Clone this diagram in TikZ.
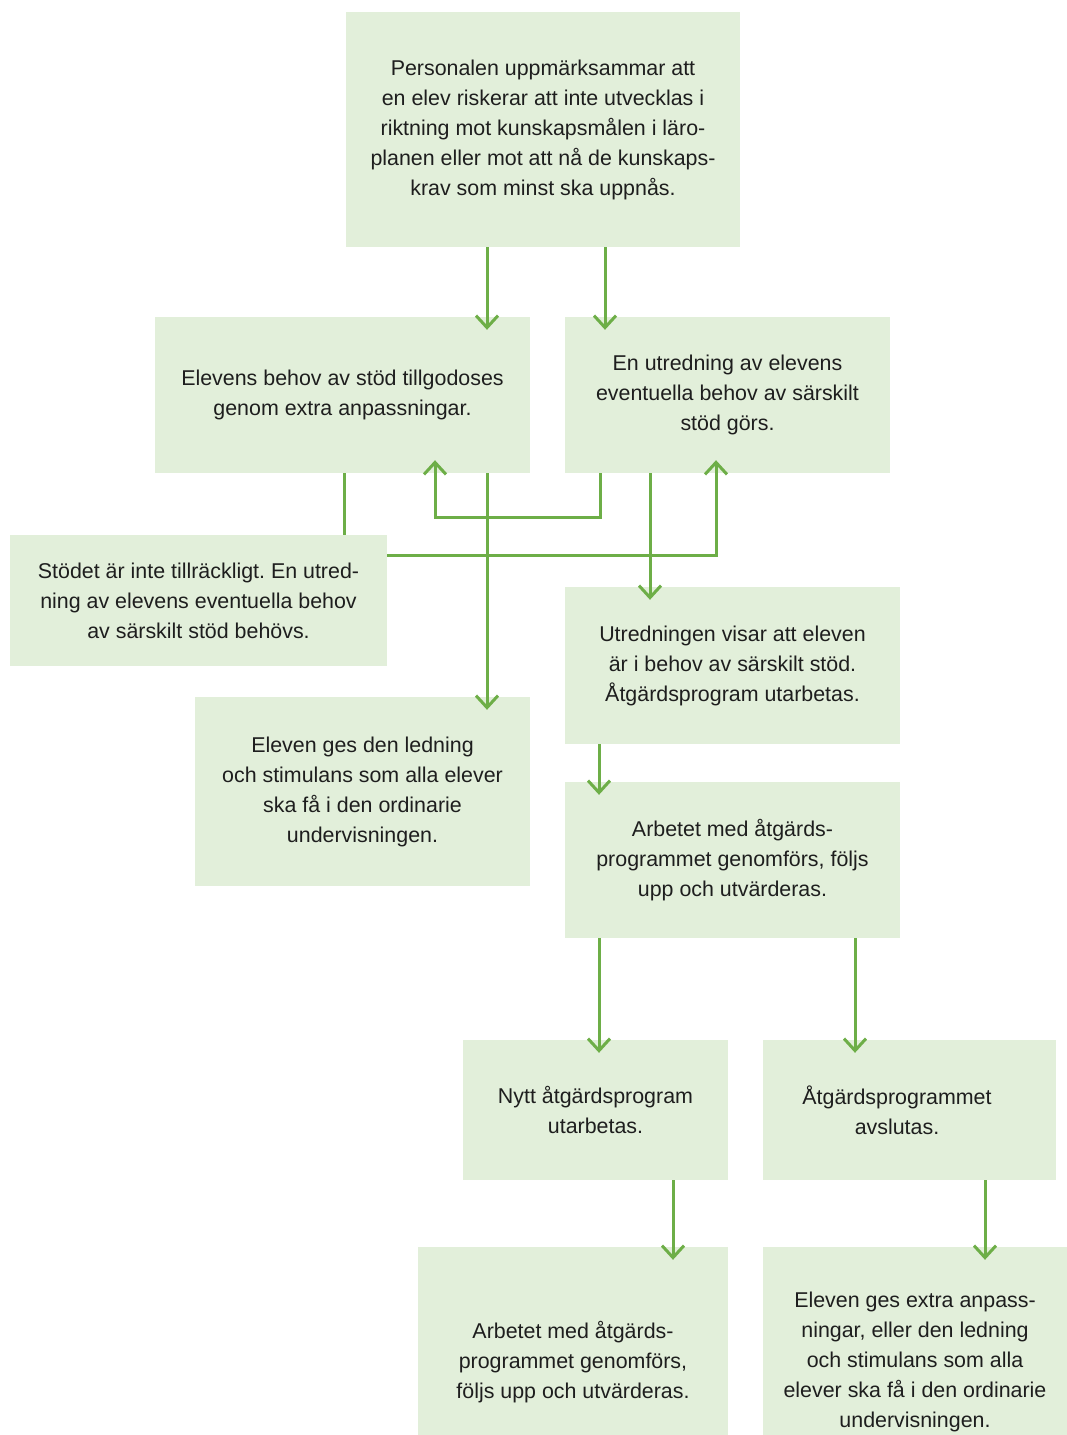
\documentclass[tikz,border=0pt]{standalone}
\usepackage{fontspec}
\setmainfont{Liberation Sans}
\usetikzlibrary{arrows.meta}
\definecolor{boxfill}{HTML}{E2EFDA}
\definecolor{linegreen}{HTML}{6DAE47}
\definecolor{txt}{HTML}{1E1E1E}
\frenchspacing
\tikzset{
  fbox/.style={fill=boxfill, draw=none, inner sep=0pt, align=center, text=txt,
    font=\fontsize{21.4}{30}\selectfont},
  arr/.style={draw=linegreen, line width=3pt, -{Straight Barb[length=12pt,width=22pt]}, shorten >=-13pt},
  conn/.style={draw=linegreen, line width=3pt}
}
\begin{document}
\begin{tikzpicture}[x=1pt,y=-1pt]
\useasboundingbox (0,0) rectangle (1067,1435);
\clip (0,0) rectangle (1067,1435);
\node[fbox, minimum width=394pt, minimum height=235pt] (top) at (543,129.5)
  {Personalen uppmärksammar att\\en elev riskerar att inte utvecklas i\\riktning mot kunskapsmålen i läro-\\planen eller mot att nå de kunskaps-\\krav som minst ska uppnås.};
\node[fbox, minimum width=375pt, minimum height=156pt] (extra) at (342.5,395)
  {Elevens behov av stöd tillgodoses\\genom extra anpassningar.};
\node[fbox, minimum width=325pt, minimum height=156pt] (utr) at (727.5,395)
  {En utredning av elevens\\eventuella behov av särskilt\\stöd görs.};
\node[fbox, minimum width=377pt, minimum height=131pt] (stod) at (198.5,600.5)
  {Stödet är inte tillräckligt. En utred-\\ning av elevens eventuella behov\\av särskilt stöd behövs.};
\node[fbox, minimum width=335pt, minimum height=157pt] (visar) at (732.5,665.5)
  {Utredningen visar att eleven\\är i behov av särskilt stöd.\\Åtgärdsprogram utarbetas.};
\node[fbox, minimum width=335pt, minimum height=189pt] (ledn) at (362.5,791.5)
  {Eleven ges den ledning\\och stimulans som alla elever\\ska få i den ordinarie\\undervisningen.};
\node[fbox, minimum width=335pt, minimum height=156pt] (arb1) at (732.5,860)
  {Arbetet med åtgärds-\\programmet genomförs, följs\\upp och utvärderas.};
\node[fbox, minimum width=265pt, minimum height=140pt] (nytt) at (595.5,1110)
  {Nytt åtgärdsprogram\\utarbetas.};
\node[fbox, minimum width=293pt, minimum height=140pt] (avsl) at (909.5,1110) {};
\node[font=\fontsize{21.4}{30}\selectfont, text=txt, align=center, inner sep=0pt]
  (avsltxt) at (897,1110) {Åtgärdsprogrammet\\avslutas.};
\node[fbox, minimum width=310pt, minimum height=230pt] (arb2) at (573,1362)
  {Arbetet med åtgärds-\\programmet genomförs,\\följs upp och utvärderas.};
\node[fbox, minimum width=304pt, minimum height=230pt] (elev) at (915,1362)
  {Eleven ges extra anpass-\\ningar, eller den ledning\\och stimulans som alla\\elever ska få i den ordinarie\\undervisningen.};
% connectors
\draw[arr] (487,0 |- top.south) -- (487,0 |- extra.north);
\draw[arr] (605,0 |- top.south) -- (605,0 |- utr.north);
\draw[conn] (344,0 |- extra.south) -- (344,0 |- stod.north);
\draw[arr] (stod.east |- 0,555) -| (716,0 |- utr.south);
\draw[arr] (600,0 |- utr.south) -- (600,517) -| (435,0 |- extra.south);
\draw[arr] (487,0 |- extra.south) -- (487,0 |- ledn.north);
\draw[arr] (650,0 |- utr.south) -- (650,0 |- visar.north);
\draw[arr] (599,0 |- visar.south) -- (599,0 |- arb1.north);
\draw[arr] (599,0 |- arb1.south) -- (599,0 |- nytt.north);
\draw[arr] (855,0 |- arb1.south) -- (855,0 |- avsl.north);
\draw[arr] (673,0 |- nytt.south) -- (673,0 |- arb2.north);
\draw[arr] (985,0 |- avsl.south) -- (985,0 |- elev.north);
\end{tikzpicture}
\end{document}
